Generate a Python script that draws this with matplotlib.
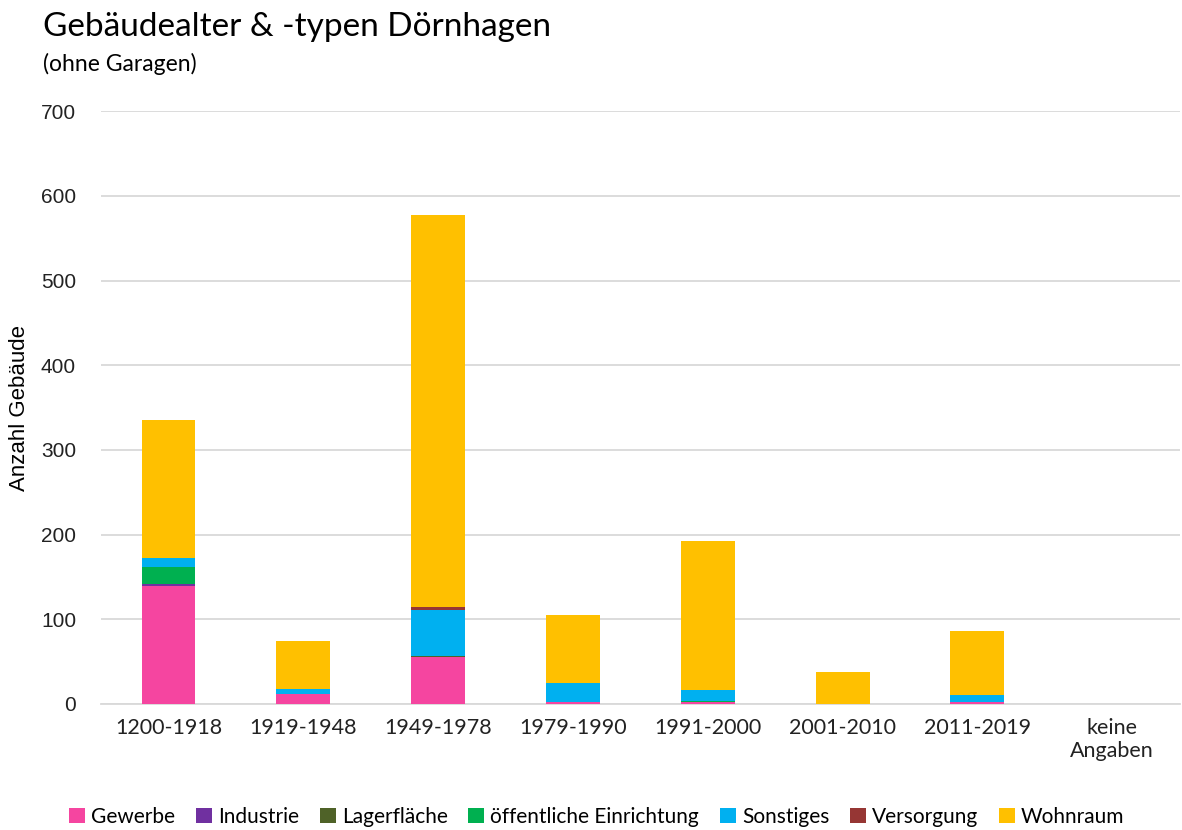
import matplotlib.pyplot as plt
import numpy as np

kategorien = ["1200-1918", "1919-1948", "1949-1978", "1979-1990",
              "1991-2000", "2001-2010", "2011-2019", "keine\nAngaben"]

gewerbe = [139, 12, 55, 2, 2, 0, 2, 0]
industrie = [2, 0, 0, 0, 0, 0, 0, 0]
lagerflaeche = [1, 0, 1, 0, 0, 0, 0, 0]
oeffentlich = [20, 0, 0, 0, 1, 0, 0, 0]
sonstiges = [10, 6, 55, 23, 13, 0, 8, 0]
versorgung = [0, 0, 3, 0, 0, 0, 0, 0]
wohnraum = [163, 56, 464, 80, 176, 38, 76, 0]

serien = [
    ("Gewerbe", gewerbe, "#f545a0"),
    ("Industrie", industrie, "#7030a0"),
    ("Lagerfläche", lagerflaeche, "#4f6228"),
    ("öffentliche Einrichtung", oeffentlich, "#00b050"),
    ("Sonstiges", sonstiges, "#00b0f0"),
    ("Versorgung", versorgung, "#963634"),
    ("Wohnraum", wohnraum, "#ffc000"),
]

fig = plt.figure(figsize=(11.82, 8.30), dpi=100)
ax = fig.add_axes([0.0855, 0.152, 0.9125, 0.714])

x = np.arange(len(kategorien))
unten = np.zeros(len(kategorien))
for name, werte, farbe in serien:
    ax.bar(x, werte, 0.4, bottom=unten, color=farbe, label=name, zorder=3)
    unten += np.array(werte)

ax.set_xlim(-0.5, len(kategorien) - 0.5)
ax.set_ylim(0, 700)
ax.set_yticks(range(0, 701, 100))
ax.yaxis.grid(True, color="#d9d9d9", linewidth=1.3, zorder=0)
for s in ["top", "right", "left"]:
    ax.spines[s].set_visible(False)
ax.spines["bottom"].set_color("#d9d9d9")
ax.spines["bottom"].set_linewidth(1.3)
ax.tick_params(axis="both", length=0)
ax.tick_params(axis="y", pad=18)
ax.tick_params(axis="x", pad=10)
ax.set_xticks(x)
ax.set_xticklabels(kategorien, fontsize=15.5, family="Lato", color="#222222")
for lab in ax.get_yticklabels():
    lab.set_fontsize(15)
    lab.set_family("Liberation Sans")
    lab.set_color("#222222")
ax.set_ylabel("Anzahl Gebäude", fontsize=16, family="Liberation Sans", labelpad=8)

fig.text(0.036, 0.957, "Gebäudealter & -typen Dörnhagen", fontsize=24,
         family="Lato", va="baseline")
fig.text(0.036, 0.915, "(ohne Garagen)", fontsize=16.5, family="Lato", va="baseline")

fig.legend(loc="center", bbox_to_anchor=(0.505, 0.016), ncol=7, frameon=False,
           prop={"family": "Lato", "size": 15}, handlelength=0.75,
           handleheight=0.75, handletextpad=0.3, columnspacing=1.0)

fig.savefig("out.png", dpi=100)
